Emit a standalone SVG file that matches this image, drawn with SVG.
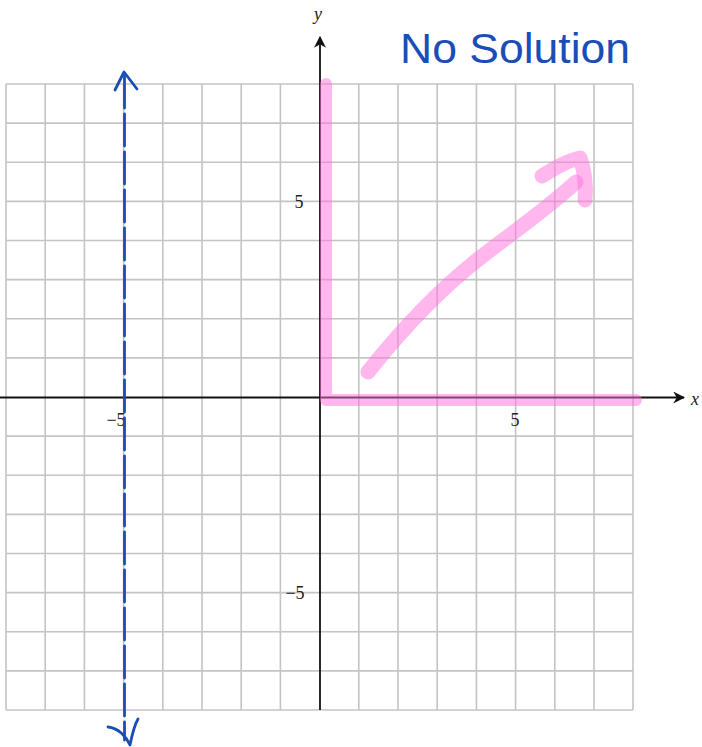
<svg xmlns="http://www.w3.org/2000/svg" width="702" height="747" viewBox="0 0 702 747">
<style>
.grid line{stroke:#c4c4c4;stroke-width:1.6}
.axis{stroke:#111;stroke-width:1.8;fill:none}
.tick{font-family:"Liberation Serif",serif;font-size:18px;fill:#222;text-anchor:middle}
.pink{stroke:#ff70dc;stroke-opacity:0.5;stroke-width:12;fill:none;stroke-linecap:round;stroke-linejoin:round}
.pink.thick{stroke-width:15}
.blue{stroke:#1a4db8;stroke-width:2.8;fill:none;stroke-linecap:round;stroke-linejoin:round}
</style>
<defs>
<marker id="ah" viewBox="0 0 10 10" refX="9" refY="5" markerWidth="12" markerHeight="12" markerUnits="userSpaceOnUse" orient="auto">
<path d="M0,0 L10,5 L0,10 L3,5 Z" fill="#111"/>
</marker>
</defs>
<rect width="702" height="747" fill="#fff"/>
<g id="grid" class="grid">
<line x1="6" y1="84" x2="6" y2="710"/><line x1="45.2" y1="84" x2="45.2" y2="710"/><line x1="84.4" y1="84" x2="84.4" y2="710"/><line x1="123.6" y1="84" x2="123.6" y2="710"/><line x1="162.8" y1="84" x2="162.8" y2="710"/><line x1="202" y1="84" x2="202" y2="710"/><line x1="241.2" y1="84" x2="241.2" y2="710"/><line x1="280.4" y1="84" x2="280.4" y2="710"/><line x1="358.8" y1="84" x2="358.8" y2="710"/><line x1="398" y1="84" x2="398" y2="710"/><line x1="437.2" y1="84" x2="437.2" y2="710"/><line x1="476.4" y1="84" x2="476.4" y2="710"/><line x1="515.6" y1="84" x2="515.6" y2="710"/><line x1="554.8" y1="84" x2="554.8" y2="710"/><line x1="594" y1="84" x2="594" y2="710"/><line x1="633" y1="84" x2="633" y2="710"/>
<line x1="6" y1="84" x2="633" y2="84"/><line x1="6" y1="123.1" x2="633" y2="123.1"/><line x1="6" y1="162.3" x2="633" y2="162.3"/><line x1="6" y1="201.4" x2="633" y2="201.4"/><line x1="6" y1="240.5" x2="633" y2="240.5"/><line x1="6" y1="279.6" x2="633" y2="279.6"/><line x1="6" y1="318.8" x2="633" y2="318.8"/><line x1="6" y1="357.9" x2="633" y2="357.9"/><line x1="6" y1="436.1" x2="633" y2="436.1"/><line x1="6" y1="475.3" x2="633" y2="475.3"/><line x1="6" y1="514.4" x2="633" y2="514.4"/><line x1="6" y1="553.5" x2="633" y2="553.5"/><line x1="6" y1="592.6" x2="633" y2="592.6"/><line x1="6" y1="631.8" x2="633" y2="631.8"/><line x1="6" y1="670.9" x2="633" y2="670.9"/><line x1="6" y1="710" x2="633" y2="710"/>
</g>
<g id="axes">
<line class="axis" x1="0" y1="397.5" x2="684" y2="397.5" marker-end="url(#ah)"/>
<line class="axis" x1="320" y1="710" x2="320" y2="37" marker-end="url(#ah)"/>
<text class="tick" x="695" y="405" font-style="italic" font-size="21">x</text>
<text class="tick" x="318" y="20" font-style="italic" font-size="21">y</text>
<text class="tick" x="515" y="426">5</text>
<text class="tick" x="116" y="426">−5</text>
<text class="tick" x="299" y="208">5</text>
<text class="tick" x="295" y="599">−5</text>
</g>
<g id="shading">
<path class="pink" d="M326,84 L326,400 L636,400"/>
<path class="pink thick" d="M368,372 C395,338 435,292 485,254 C518,229 550,206 576,182"/>
<path class="pink thick" d="M542,176 C556,167 570,160 580,158 C585,172 586,188 585,200"/>
</g>
<g id="boundary">
<line class="blue" x1="124.5" y1="76" x2="124.5" y2="740" stroke-dasharray="32 6" stroke-linecap="butt"/>
<path class="blue" d="M115,90 L124,72 L137,89"/>
<path class="blue" d="M108,727 C118,728 126,736 130,745 C132,735 134,726 138,719"/>
</g>
<g id="label">
<text x="400" y="63" font-family="Liberation Sans, sans-serif" font-size="42" fill="#1a4db8" textLength="230" lengthAdjust="spacingAndGlyphs">No Solution</text>
</g>
</svg>
